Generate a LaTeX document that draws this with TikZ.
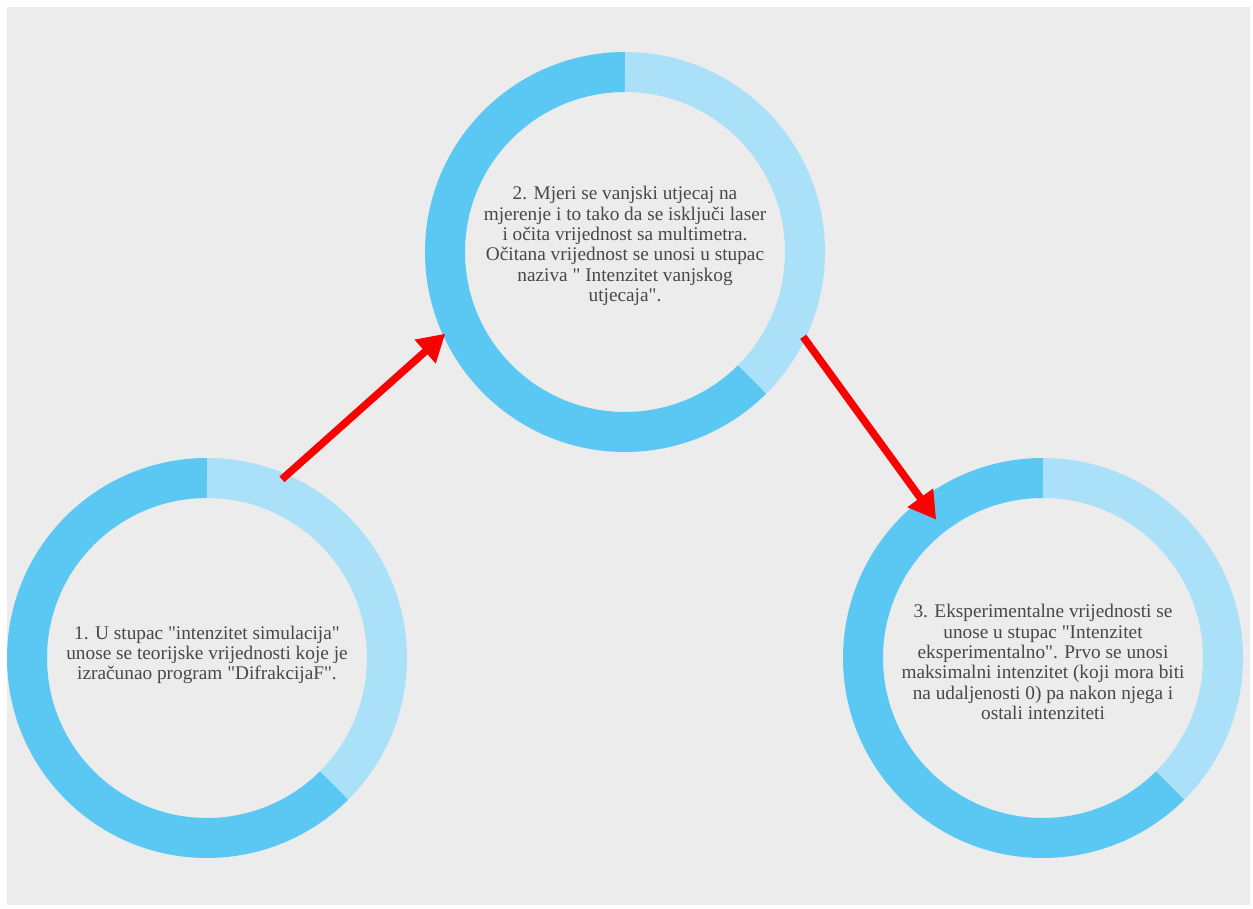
\documentclass[tikz,border=0pt]{standalone}
\usepackage{fontspec}
\setmainfont{Liberation Serif}[Ligatures=TeXOff]
\usetikzlibrary{arrows.meta,calc}
\definecolor{bgc}{RGB}{236,236,236}
\definecolor{ringdark}{RGB}{91,200,244}
\definecolor{ringlight}{RGB}{170,224,248}
\definecolor{txt}{RGB}{72,72,72}
\definecolor{arr}{RGB}{250,0,0}
\tikzset{
  stage/.style={circle, minimum size=400pt, inner sep=0pt, outer sep=0pt,
    align=center, text=txt, font=\fontsize{19.3}{20.3}\selectfont},
  ringd/.style={line width=40pt, ringdark},
  ringl/.style={line width=40pt, ringlight},
  redarrow/.style={line width=7.5pt, arr, -{Triangle[length=27pt,width=30pt]}}
}
\begin{document}
\begin{tikzpicture}[x=1pt,y=1pt]
\useasboundingbox (0,0) rectangle (1253,908);
\fill[bgc] (7,3) rectangle (1250,901);
% rings
\foreach \cx/\cy in {207/250, 625/656, 1043/250}{
  \draw[ringd] (\cx,\cy) ++(90:180) arc[start angle=90, end angle=315, radius=180];
  \draw[ringl] (\cx,\cy) ++(90:180) arc[start angle=90, end angle=-45, radius=180];
}
\node[stage] (c1) at (207,253) {1. U stupac "intenzitet simulacija"\\ unose se teorijske vrijednosti koje je\\ izračunao program "DifrakcijaF".};
\node[stage] (c2) at (625,662) {2. Mjeri se vanjski utjecaj na\\ mjerenje i to tako da se isključi laser\\ i očita vrijednost sa multimetra.\\ Očitana vrijednost se unosi u stupac\\ naziva " Intenzitet vanjskog\\ utjecaja".};
\node[stage] (c3) at (1043,246) {3. Eksperimentalne vrijednosti se\\ unose u stupac "Intenzitet\\ eksperimentalno". Prvo se unosi\\ maksimalni intenzitet (koji mora biti\\ na udaljenosti 0) pa nakon njega i\\ ostali intenziteti};
\coordinate (a1s) at ($(c1)+(66.9:191)$);
\coordinate (a2e) at ($(c3)+(126.9:178)$);
\draw[redarrow] (a1s) -- (c2.206.7);
\draw[redarrow] (c2.-27.6) -- (a2e);
\end{tikzpicture}
\end{document}
